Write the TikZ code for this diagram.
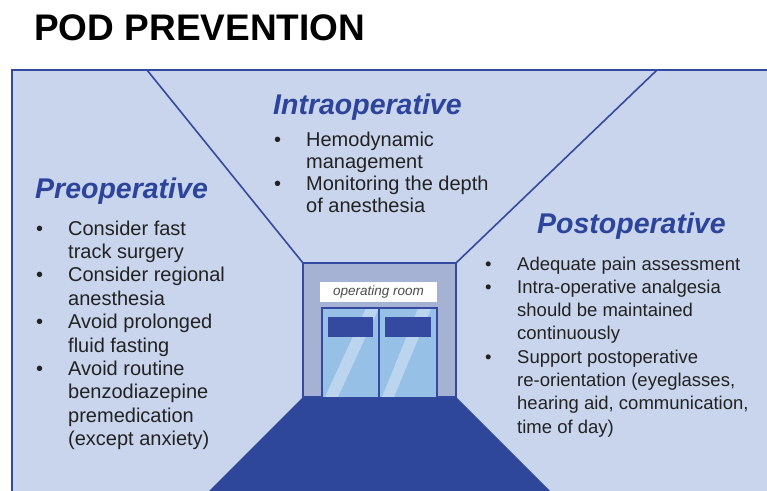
\documentclass[tikz,border=0pt]{standalone}
\usepackage{fontspec}
\setmainfont{Liberation Sans}
\usetikzlibrary{calc}
\begin{document}
\definecolor{wall}{RGB}{201,213,236}
\definecolor{edge}{RGB}{52,74,160}
\definecolor{floorblue}{RGB}{47,71,154}
\definecolor{framegrey}{RGB}{166,178,212}
\definecolor{glass}{RGB}{150,192,230}
\definecolor{glint}{RGB}{187,213,238}
\definecolor{headblue}{RGB}{44,68,156}
\definecolor{bodytext}{RGB}{34,34,34}
\newcommand{\bitem}[1]{\par\hangindent=33pt\hangafter=1\noindent\makebox[33pt][l]{\hspace*{1pt}\textbullet}#1}
\begin{tikzpicture}[x=1pt,y=-1pt,
  wallline/.style={draw=edge,line width=1.6pt},
  heading/.style={anchor=base west,inner sep=0pt,text=headblue,
    font=\fontsize{28.5}{32}\selectfont\bfseries\itshape},
  listnode/.style={anchor=base west,inner sep=0pt,text=bodytext},
]
\useasboundingbox (0,0) rectangle (767,490);
\begin{scope}
\clip (0,0) rectangle (767,490);

% outer panel
\draw[wallline,fill=wall] (12,70) rectangle (790,510);

% corridor edges
\coordinate (ceilL) at (147,70);
\coordinate (ceilR) at (657,70);
\coordinate (frTL) at (303,263);
\coordinate (frTR) at (456,263);
\coordinate (frBL) at (303,397);
\coordinate (frBR) at (456,397);
\draw[wallline] (ceilL) -- (frTL);
\draw[wallline] (ceilR) -- (frTR);

% floor
\fill[floorblue] (frBL) -- (frBR) -- ($(frBR)+(110,110)$) -- ($(frBL)+(-110,110)$) -- cycle;

% door frame
\draw[draw=edge,line width=1.4pt,fill=framegrey] (frTL) rectangle (frBR);

% sign
\node[fill=white,minimum width=117pt,minimum height=20pt,inner sep=0pt,
  text=black!70,font=\fontsize{13.5}{14}\selectfont\itshape] (sign) at (378.5,292) {operating room};

% doors
\begin{scope}
  \clip (322,308) rectangle (378.5,397);
  \fill[glass] (322,308) rectangle (378.5,397);
  \fill[glint] (325,397) -- (338,397) -- (380,306) -- (367,306) -- cycle;
\end{scope}
\begin{scope}
  \clip (379.5,308) rectangle (437,397);
  \fill[glass] (379.5,308) rectangle (437,397);
  \fill[glint] (382,397) -- (394,397) -- (432,306) -- (419,306) -- cycle;
\end{scope}
\draw[draw=edge,line width=1.3pt] (322,397) -- (322,308) -- (437,308) -- (437,397);
\draw[draw=edge,line width=1.3pt] (379,308) -- (379,397);
\fill[edge] (328,317) rectangle (373,337);
\fill[edge] (385,317) rectangle (431,337);
\draw[draw=edge,line width=1pt] (frBL) -- (frBR);
\end{scope}

% title
\node[anchor=base west,inner sep=0pt,font=\fontsize{37}{40}\selectfont\bfseries] (title) at (34,40) {POD PREVENTION};

% headings
\node[heading] (pre) at (35,198) {Preoperative};
\node[heading] (intra) at (273,114) {Intraoperative};
\node[heading] (post) at (537,233) {Postoperative};

% bullet lists
\node[listnode] (prelist) at (35,235) {\parbox[t]{240pt}{\fontsize{20}{23.4}\selectfont\parindent=0pt\parskip=0pt
  \bitem{Consider fast\\track surgery}
  \bitem{Consider regional\\anesthesia}
  \bitem{Avoid prolonged\\fluid fasting}
  \bitem{Avoid routine\\benzodiazepine\\premedication\\(except anxiety)}}};

\node[listnode] (intralist) at (273,146) {\parbox[t]{240pt}{\fontsize{20}{22}\selectfont\parindent=0pt\parskip=0pt
  \bitem{Hemodynamic\\management}
  \bitem{Monitoring the depth\\of anesthesia}}};

\node[listnode] (postlist) at (484,270) {\parbox[t]{280pt}{\fontsize{18.5}{23.3}\selectfont\parindent=0pt\parskip=0pt
  \bitem{Adequate pain assessment}
  \bitem{Intra-operative analgesia\\should be maintained\\continuously}
  \bitem{Support postoperative\\re-orientation (eyeglasses,\\hearing aid, communication,\\time of day)}}};
\end{tikzpicture}
\end{document}
